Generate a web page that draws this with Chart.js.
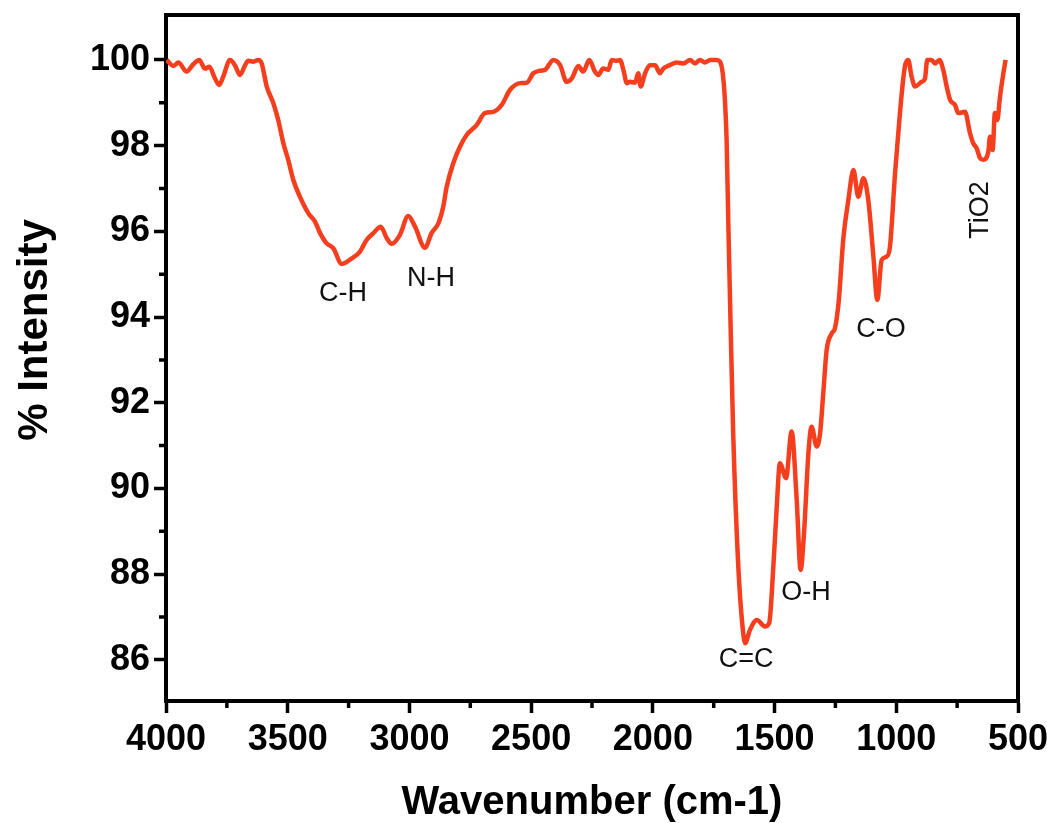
<!DOCTYPE html>
<html>
<head>
<meta charset="utf-8">
<script src="https://cdn.jsdelivr.net/npm/chart.js@4.4.1/dist/chart.umd.min.js"></script>
<style>
  html, body { margin: 0; padding: 0; background: #fff; overflow: hidden; }
  #wrap { width: 1047px; height: 823px; }
</style>
</head>
<body>
<div id="wrap"><canvas id="ftir"></canvas></div>
<script>
// FTIR spectrum
const wavenumbers = [
  3997, 3970, 3949, 3915, 3888, 3863, 3840, 3822, 3799, 3781, 3765, 3737, 3717, 3696, 3675, 3662,
  3641, 3621, 3607, 3586, 3559, 3539, 3518, 3498, 3477, 3450, 3415, 3388, 3367, 3340, 3313, 3278,
  3237, 3203, 3176, 3148, 3118, 3093, 3073, 3039, 3005, 2977, 2936, 2909, 2881, 2861, 2847, 2820,
  2792, 2765, 2724, 2690, 2655, 2621, 2587, 2546, 2518, 2491, 2464, 2443, 2409, 2381, 2354, 2333,
  2306, 2286, 2261, 2238, 2224, 2204, 2183, 2169, 2149, 2135, 2121, 2107, 2094, 2073, 2060, 2050,
  2032, 2012, 1991, 1971, 1957, 1930, 1902, 1875, 1847, 1827, 1806, 1786, 1765, 1738, 1724, 1713,
  1704, 1697, 1690, 1683, 1670, 1649, 1632, 1621, 1601, 1573, 1539, 1522, 1505, 1491, 1478, 1453,
  1430, 1409, 1393, 1379, 1361, 1348, 1327, 1313, 1300, 1286, 1265, 1252, 1236, 1218, 1197, 1176,
  1156, 1135, 1115, 1094, 1078, 1060, 1040, 1026, 1005, 985, 965, 951, 937, 923, 896, 882,
  873, 855, 841, 823, 807, 793, 779, 759, 745, 718, 697, 684, 670, 656, 643, 622,
  615, 604, 595, 585, 574, 560, 551
];
const intensity = [
  100.0, 99.86, 99.94, 99.73, 99.9, 100.0, 99.8, 99.84, 99.57, 99.42, 99.61, 100.0, 99.88, 99.65, 99.88, 99.98,
  99.96, 100.0, 99.92, 99.38, 98.99, 98.6, 98.06, 97.67, 97.2, 96.81, 96.42, 96.23, 95.96, 95.72, 95.61, 95.24,
  95.37, 95.53, 95.8, 95.96, 96.11, 95.84, 95.71, 95.92, 96.36, 96.11, 95.62, 95.96, 96.19, 96.58, 97.04, 97.59,
  97.98, 98.25, 98.48, 98.76, 98.79, 98.95, 99.3, 99.46, 99.47, 99.69, 99.75, 99.77, 100.0, 99.88, 99.49, 99.57,
  99.86, 99.73, 100.0, 99.73, 99.65, 99.8, 99.77, 100.0, 99.98, 100.0, 99.77, 99.46, 99.49, 99.47, 99.69, 99.38,
  99.69, 99.88, 99.88, 99.69, 99.8, 99.88, 99.94, 99.92, 100.0, 99.92, 100.0, 99.94, 100.0, 100.0, 99.96, 99.69,
  99.07, 98.13, 96.2, 94.4, 91.29, 88.18, 86.8, 86.39, 86.7, 86.93, 86.78, 86.86, 88.18, 89.58, 90.59, 90.24,
  91.33, 89.73, 88.1, 88.96, 90.82, 91.44, 90.98, 91.29, 92.22, 93.23, 93.62, 93.74, 94.4, 95.8, 96.73, 97.43,
  96.81, 97.24, 96.73, 95.41, 94.4, 95.33, 95.41, 95.64, 97.36, 98.76, 99.84, 100.0, 99.61, 99.38, 99.49, 99.57,
  100.0, 100.0, 99.92, 100.0, 99.77, 99.38, 99.07, 98.95, 98.76, 98.79, 98.29, 98.06, 97.94, 97.71, 97.67, 97.86,
  98.21, 97.9, 98.76, 98.6, 99.14, 99.69, 100.0
];

const xTicks = [4000, 3500, 3000, 2500, 2000, 1500, 1000, 500];
const yTicks = [86, 88, 90, 92, 94, 96, 98, 100];

// band labels: text, wavenumber, intensity
const bandNames = ["C-H", "N-H", "C=C", "O-H", "C-O", "TiO2"];
const bandX = [3273, 2911, 1617, 1371, 1063, 652];
const bandY = [94.54, 94.89, 86.0, 87.56, 93.7, 96.5];

const FONT = "'Liberation Sans', Arial, sans-serif";
const LINE_RED = "rgb(244, 62, 30)";

const points = wavenumbers.map((w, i) => ({ x: w, y: intensity[i] }));

// minor ticks, frame, y title and band labels
const extras = {
  id: "extras",
  afterDraw(chart) {
    const { ctx, chartArea: a, scales } = chart;
    const xs = scales.x, ys = scales.y;
    ctx.save();
    ctx.strokeStyle = "#000";
    ctx.lineWidth = 3.5;
    ctx.beginPath();
    for (let i = 0; i < xTicks.length - 1; i++) {
      const px = xs.getPixelForValue((xTicks[i] + xTicks[i + 1]) / 2);
      ctx.moveTo(px, a.bottom);
      ctx.lineTo(px, a.bottom + 7);
    }
    for (let i = 0; i < yTicks.length - 1; i++) {
      const py = ys.getPixelForValue((yTicks[i] + yTicks[i + 1]) / 2);
      ctx.moveTo(a.left, py);
      ctx.lineTo(a.left - 7, py);
    }
    ctx.stroke();

    // top and right edges of the box
    ctx.lineWidth = 4;
    ctx.beginPath();
    ctx.moveTo(a.left - 2, a.top);
    ctx.lineTo(a.right, a.top);
    ctx.lineTo(a.right, a.bottom + 2);
    ctx.stroke();

    // y axis title sits a bit above the middle in the original
    ctx.fillStyle = "#000";
    ctx.font = "bold 42px " + FONT;
    ctx.textAlign = "center";
    ctx.textBaseline = "middle";
    ctx.save();
    ctx.translate(35, (a.top + a.bottom) / 2 - 28);
    ctx.rotate(-Math.PI / 2);
    ctx.fillText("% Intensity", 0, 0);
    ctx.restore();

    ctx.fillStyle = "#111";
    ctx.font = "27px " + FONT;
    bandNames.forEach((name, i) => {
      const px = xs.getPixelForValue(bandX[i]);
      const py = ys.getPixelForValue(bandY[i]);
      if (name === "TiO2") {
        ctx.save();
        ctx.translate(px, py);
        ctx.rotate(-Math.PI / 2);
        ctx.fillText(name, 0, 0);
        ctx.restore();
      } else {
        ctx.fillText(name, px, py);
      }
    });
    ctx.restore();
  }
};

new Chart(document.getElementById("ftir"), {
  type: "line",
  data: {
    datasets: [{
      data: points,
      borderColor: LINE_RED,
      borderWidth: 4.5,
      pointRadius: 0,
      fill: false,
      cubicInterpolationMode: "monotone"
    }]
  },
  options: {
    responsive: true,
    maintainAspectRatio: false,
    animation: false,
    events: [],
    layout: { padding: { top: 15, right: 29, left: 0, bottom: 0 } },
    plugins: { legend: { display: false }, tooltip: { enabled: false } },
    scales: {
      x: {
        type: "linear",
        reverse: true,
        min: 500,
        max: 4000,
        afterBuildTicks: (s) => { s.ticks = xTicks.map(v => ({ value: v })); },
        afterFit: (s) => { s.height = 122; s.paddingLeft = 0; s.paddingRight = 0; },
        border: { display: true, color: "#000", width: 4 },
        grid: { drawOnChartArea: false, drawTicks: true, tickLength: 12, tickWidth: 3.5, tickColor: "#000" },
        ticks: {
          color: "#000",
          padding: 9,
          maxRotation: 0,
          callback: (v) => String(v),
          font: { family: FONT, size: 36, weight: "bold", lineHeight: 1 }
        },
        title: {
          display: true,
          text: "Wavenumber (cm-1)",
          color: "#000",
          padding: { top: 0, bottom: 0 },
          font: { family: FONT, size: 40, weight: "bold", lineHeight: 1 }
        }
      },
      y: {
        min: 85.04,
        max: 101.05,
        afterBuildTicks: (s) => { s.ticks = yTicks.map(v => ({ value: v })); },
        afterFit: (s) => { s.width = 166; s.paddingTop = 0; s.paddingBottom = 0; },
        border: { display: true, color: "#000", width: 4 },
        grid: { drawOnChartArea: false, drawTicks: true, tickLength: 12, tickWidth: 3.5, tickColor: "#000" },
        ticks: {
          color: "#000",
          padding: 4,
          font: { family: FONT, size: 36, weight: "bold", lineHeight: 1 }
        }
      }
    }
  },
  plugins: [extras]
});
</script>
</body>
</html>
